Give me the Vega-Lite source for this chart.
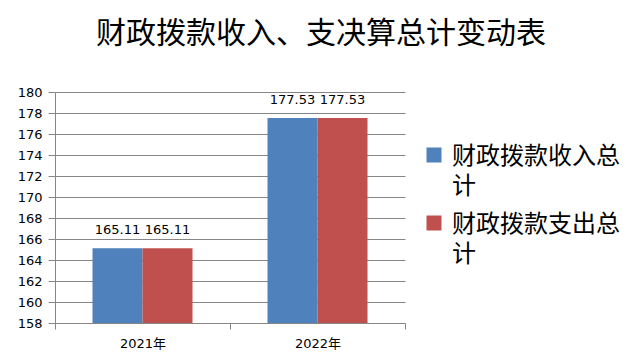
{
  "$schema": "https://vega.github.io/schema/vega-lite/v6.json",
  "width": 350,
  "height": 231,
  "autosize": {"type": "none"},
  "padding": {"left": 55, "top": 92, "right": 235, "bottom": 41},
  "background": "white",
  "title": {
    "text": "财政拨款收入、支决算总计变动表",
    "font": "Noto Sans CJK SC",
    "fontSize": 30,
    "fontWeight": "normal",
    "color": "#000000",
    "anchor": "middle",
    "dx": 91,
    "offset": 37
  },
  "data": {
    "values": [
      {"年份": "2021年", "类别": "财政拨款收入总计", "金额": 165.11},
      {"年份": "2021年", "类别": "财政拨款支出总计", "金额": 165.11},
      {"年份": "2022年", "类别": "财政拨款收入总计", "金额": 177.53},
      {"年份": "2022年", "类别": "财政拨款支出总计", "金额": 177.53}
    ]
  },
  "encoding": {
    "x": {
      "field": "年份",
      "type": "nominal",
      "scale": {"paddingInner": 0, "paddingOuter": 0},
      "axis": {
        "title": null,
        "labelAngle": 0,
        "tickBand": "extent",
        "domainColor": "#868686",
        "tickColor": "#868686",
        "tickSize": 6,
        "labelPadding": 8,
        "labelFont": "DejaVu Sans, Noto Sans CJK SC",
        "labelFontSize": 13,
        "labelColor": "#000000",
        "grid": false
      }
    },
    "xOffset": {
      "field": "类别",
      "type": "nominal",
      "sort": ["财政拨款收入总计", "财政拨款支出总计"],
      "scale": {"paddingOuter": 0.75, "paddingInner": 0}
    },
    "y": {
      "field": "金额",
      "type": "quantitative",
      "scale": {"domain": [158, 180], "nice": false, "zero": false},
      "axis": {
        "title": null,
        "values": [158, 160, 162, 164, 166, 168, 170, 172, 174, 176, 178, 180],
        "gridColor": "#868686",
        "domainColor": "#868686",
        "tickColor": "#868686",
        "tickSize": 7,
        "labelPadding": 6,
        "labelFont": "DejaVu Sans",
        "labelFontSize": 13,
        "labelColor": "#000000"
      }
    }
  },
  "layer": [
    {
      "mark": {"type": "bar", "clip": true},
      "encoding": {
        "color": {
          "field": "类别",
          "type": "nominal",
          "scale": {
            "domain": ["财政拨款收入总计", "财政拨款支出总计"],
            "range": ["#4F81BD", "#C0504D"]
          },
          "legend": {
            "title": null,
            "orient": "none",
            "legendX": 367,
            "legendY": 51,
            "padding": 0,
            "symbolType": "square",
            "symbolSize": 225,
            "symbolStrokeWidth": 0,
            "labelFont": "Noto Sans CJK SC",
            "labelFontSize": 24,
            "labelColor": "#000000",
            "labelLimit": 300,
            "labelOffset": 6,
            "labelBaseline": "alphabetic",
            "rowPadding": 12,
            "labelExpr": "[substring(datum.label, 0, 7), substring(datum.label, 7)]",
            "encode": {
              "labels": {"update": {"lineHeight": {"value": 30}, "dy": {"value": 9}}}
            }
          }
        }
      }
    },
    {
      "mark": {
        "type": "text",
        "baseline": "alphabetic",
        "dy": -14,
        "font": "DejaVu Sans",
        "fontSize": 13,
        "color": "#000000"
      },
      "encoding": {
        "text": {"field": "金额", "type": "quantitative", "format": ".2f"}
      }
    }
  ],
  "config": {
    "view": {"stroke": null}
  }
}
